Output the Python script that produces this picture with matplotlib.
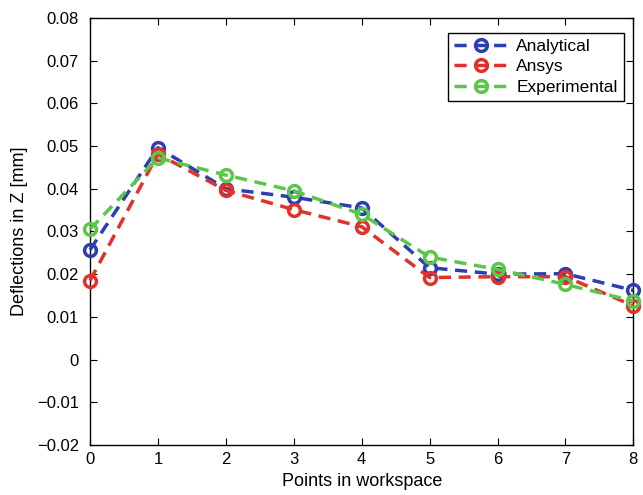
import matplotlib
matplotlib.use("Agg")
import matplotlib.pyplot as plt

points = [0, 1, 2, 3, 4, 5, 6, 7, 8]
analytical = [0.0257, 0.0496, 0.0400, 0.0380, 0.0355, 0.0215, 0.0200, 0.0201, 0.0162]
ansys = [0.0185, 0.0481, 0.0396, 0.0351, 0.0311, 0.0192, 0.0194, 0.0194, 0.0126]
experimental = [0.0305, 0.0472, 0.0432, 0.0395, 0.0340, 0.0240, 0.0211, 0.0176, 0.0137]

plt.rcParams["font.family"] = ["Liberation Sans", "DejaVu Sans"]

fig = plt.figure(figsize=(6.43, 4.95), dpi=100)
ax = fig.add_axes([0.140, 0.101, 0.845, 0.863])

series = [
    (analytical, "#2b3fae", "Analytical"),
    (ansys, "#e2302b", "Ansys"),
    (experimental, "#5cc64b", "Experimental"),
]
for values, color, label in series:
    ax.plot(
        points, values, linestyle="--", dashes=(3.5, 2.2), color=color, linewidth=2.5,
        marker="o", markersize=8.5, markerfacecolor="none", markeredgewidth=2.5,
        label=label, clip_on=False, zorder=3,
    )

ax.set_xlim(0, 8)
ax.set_ylim(-0.02, 0.08)
ax.set_xticks(points)
ax.set_yticks([-0.02, -0.01, 0, 0.01, 0.02, 0.03, 0.04, 0.05, 0.06, 0.07, 0.08])
ax.set_yticklabels(["\u22120.02", "\u22120.01", "0", "0.01", "0.02", "0.03",
                    "0.04", "0.05", "0.06", "0.07", "0.08"])
ax.tick_params(direction="in", length=5, labelsize=12, top=True, right=True, width=0.8)
ax.tick_params(axis="y", pad=8)
ax.tick_params(axis="x", pad=5)
for spine in ax.spines.values():
    spine.set_linewidth(1.0)

ax.set_xlabel("Points in workspace", fontsize=13, labelpad=4)
ax.set_ylabel("Deflections in Z [mm]", fontsize=13, labelpad=6)

leg = ax.legend(loc="upper right", fontsize=12.5, fancybox=False, framealpha=1,
                edgecolor="black", handlelength=3.2, borderpad=0.35,
                labelspacing=0.3, handletextpad=0.4, bbox_to_anchor=(0.998, 0.985))
leg.get_frame().set_linewidth(1.0)

fig.savefig("out.png", dpi=100)
